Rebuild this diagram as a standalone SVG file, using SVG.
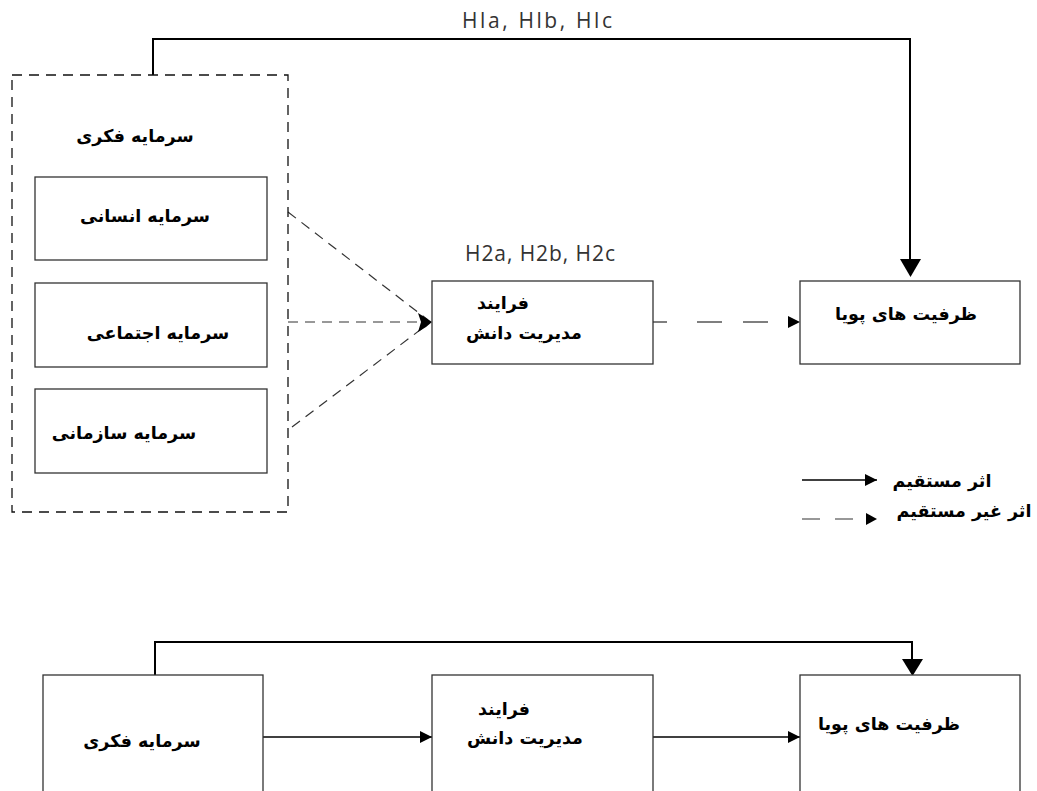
<svg xmlns="http://www.w3.org/2000/svg" width="1037" height="791" viewBox="0 0 1037 791">
<style>
.box{fill:#fff;stroke:#333;stroke-width:1.3}
.dbox{fill:none;stroke:#111;stroke-width:1.3;stroke-dasharray:10 7}
.fa{font-family:"DejaVu Sans",sans-serif;font-weight:bold;font-size:17.5px;fill:#000;text-anchor:middle}
.hl{font-family:"Open Sans",Lato,sans-serif;font-size:21px;fill:#333;text-anchor:middle}
.solid{fill:none;stroke:#000;stroke-width:2}
.thin{fill:none;stroke:#000;stroke-width:1.4}
.dash{fill:none;stroke:#333;stroke-width:1.2;stroke-dasharray:10 7}
</style>
<defs>
<marker id="sm" markerWidth="12" markerHeight="12" refX="12" refY="6" orient="auto" markerUnits="userSpaceOnUse"><path d="M0,0 L12,6 L0,12 Z" fill="#000"/></marker>
</defs>
<rect width="1037" height="791" fill="#fff"/>

<g id="connectors">
<path class="solid" d="M153,75 V39 H910 V259" />
<path d="M900,259 L921,259 L910.5,277 Z" fill="#000"/>
<line class="dash" x1="288" y1="212" x2="428" y2="320"/>
<line class="dash" x1="288" y1="322" x2="428" y2="322"/>
<line class="dash" x1="292" y1="427" x2="428" y2="324"/>
<path d="M418,313 L426,318 L432,322 L426,327 L418,332 L421,322 Z" fill="#000"/>
<line x1="653" y1="322" x2="788" y2="322" stroke="#000" stroke-width="1.2" stroke-dasharray="14 30 25 21 25 21"/>
<path d="M788,316 L800,322 L788,328 Z" fill="#000"/>
<path class="solid" d="M155,675 V642 H912 V659" />
<path d="M902,659 L923,659 L912.5,676 Z" fill="#000"/>
<line class="thin" x1="263" y1="737" x2="432" y2="737" marker-end="url(#sm)"/>
<line class="thin" x1="653" y1="737" x2="800" y2="737" marker-end="url(#sm)"/>
</g>

<g id="legend">
<line class="thin" x1="802" y1="480" x2="877" y2="480" marker-end="url(#sm)"/>
<line x1="802" y1="519" x2="856" y2="519" stroke="#333" stroke-width="1.2" stroke-dasharray="18 15"/>
<path d="M866,513 L877,519 L866,525 Z" fill="#000"/>
<text class="fa" x="942" y="487">اثر مستقیم</text>
<text class="fa" x="964" y="517">اثر غیر مستقیم</text>
</g>

<g id="labels">
<text class="hl" x="537" y="28" textLength="150" lengthAdjust="spacing">Hla, Hlb, Hlc</text>
<text class="hl" x="540" y="261" textLength="150" lengthAdjust="spacing">H2a, H2b, H2c</text>
</g>

<g id="intellectual-capital-group">
<rect class="dbox" x="12" y="75" width="276" height="437"/>
<text class="fa" x="135" y="142">سرمایه فکری</text>
</g>
<g id="human-capital">
<rect class="box" x="35" y="177" width="232" height="83"/>
<text class="fa" x="145" y="222">سرمایه انسانی</text>
</g>
<g id="social-capital">
<rect class="box" x="35" y="283" width="232" height="84"/>
<text class="fa" x="158" y="339">سرمایه اجتماعی</text>
</g>
<g id="organizational-capital">
<rect class="box" x="35" y="389" width="232" height="84"/>
<text class="fa" x="124" y="439">سرمایه سازمانی</text>
</g>
<g id="km-process">
<rect class="box" x="432" y="281" width="221" height="83"/>
<text class="fa" x="503" y="309">فرایند</text>
<text class="fa" x="524" y="339">مدیریت دانش</text>
</g>
<g id="dynamic-capabilities">
<rect class="box" x="800" y="281" width="220" height="83"/>
<text class="fa" x="906" y="320">ظرفیت های پویا</text>
</g>

<g id="b-intellectual-capital">
<rect class="box" x="43" y="675" width="220" height="140"/>
<text class="fa" x="142" y="747">سرمایه فکری</text>
</g>
<g id="b-km-process">
<rect class="box" x="432" y="675" width="221" height="140"/>
<text class="fa" x="504" y="715">فرایند</text>
<text class="fa" x="525" y="744">مدیریت دانش</text>
</g>
<g id="b-dynamic-capabilities">
<rect class="box" x="800" y="675" width="220" height="140"/>
<text class="fa" x="889" y="730">ظرفیت های پویا</text>
</g>
</svg>
